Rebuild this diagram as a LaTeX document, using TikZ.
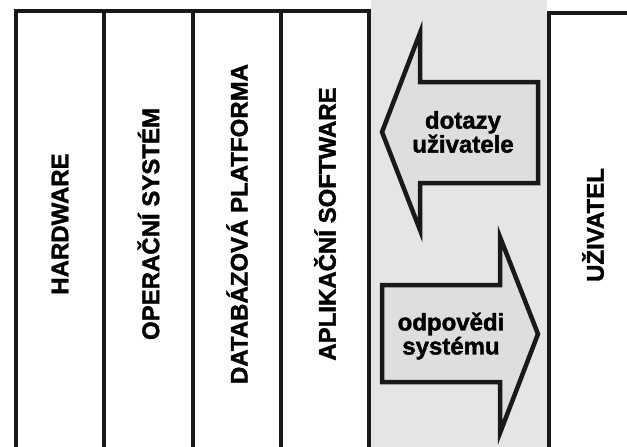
\documentclass[tikz,border=0pt]{standalone}
\usepackage{fontspec}
\setmainfont{Liberation Sans}[BoldFeatures={FakeBold=1.6}]
\begin{document}
\begin{tikzpicture}[x=1pt,y=-1pt,
  frame/.style={line width=4.5pt,draw=black!90},
  layerlabel/.style={rotate=90,font=\fontsize{24}{25}\selectfont\bfseries,inner sep=0pt},
  arrowlabel/.style={align=center,font=\fontsize{24}{24}\selectfont\bfseries,inner sep=0pt},
  bigarrow/.style={line width=4.5pt,draw=black!90,fill=black!13,line join=miter}]
\useasboundingbox (0,0) rectangle (627,447);
\fill[white] (0,0) rectangle (627,447);
% gray middle band
\fill[black!10] (371,0) rectangle (547,447);
% layer columns
\coordinate (c0b) at (16,447); \coordinate (c0t) at (16,11);
\coordinate (c4b) at (369,447); \coordinate (c4t) at (369,11);
\draw[frame,line join=miter] (c0b) -- (c0t) -- (c4t) -- (c4b);
\foreach \x/\n in {104/1,193/2,281/3}{
  \coordinate (c\n t) at (\x,11);
  \coordinate (c\n b) at (\x,447);
  \draw[frame] (c\n t) -- (c\n b);
}
% user column
\coordinate (ub) at (549,447); \coordinate (ut) at (549,13); \coordinate (ur) at (627,13);
\draw[frame,line join=miter] (ub) -- (ut) -- (ur);
% labels
\node[layerlabel] (hw) at (60,224) {HARDWARE};
\node[layerlabel] (os) at (148.5,224) {OPERAČNÍ SYSTÉM};
\node[layerlabel] (db) at (237,224) {DATABÁZOVÁ PLATFORMA};
\node[layerlabel] (app) at (325,224) {APLIKAČNÍ SOFTWARE};
\node[layerlabel] (user) at (593,225) {UŽIVATEL};
% arrows
\draw[bigarrow] (382,132) -- (420,33) -- (420,82) -- (538,82) -- (538,183) -- (420,183) -- (420,230) -- cycle;
\draw[bigarrow] (382,285) -- (500,285) -- (500,237) -- (538,334) -- (500,433) -- (500,382) -- (382,382) -- cycle;
\node[arrowlabel] (q) at (463,132) {dotazy\\uživatele};
\node[arrowlabel] (a) at (451,336) {odpovědi\\systému};
\end{tikzpicture}
\end{document}
